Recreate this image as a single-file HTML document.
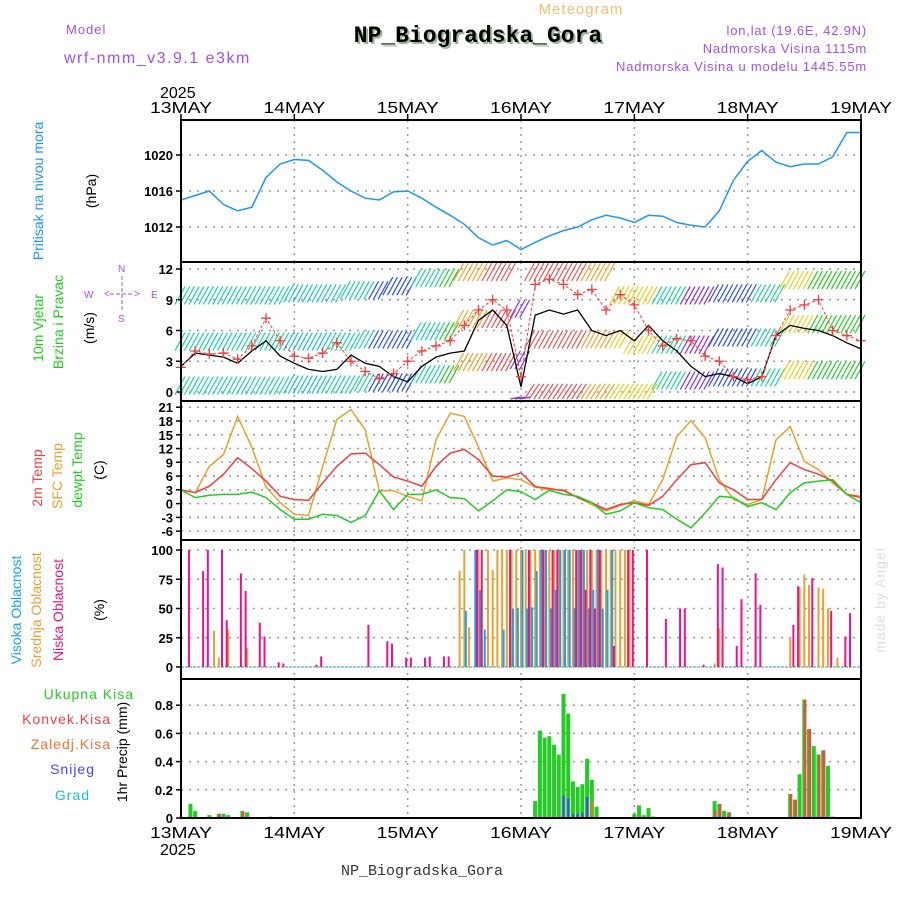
<!DOCTYPE html>
<html><head><meta charset="utf-8"><style>
html,body{margin:0;padding:0;background:#fff;width:900px;height:900px;overflow:hidden}
svg{display:block;font-family:"Liberation Sans",sans-serif}
</style></head><body>
<svg id="chart" width="900" height="900" viewBox="0 0 900 900"></svg>
<script>
// ---------- data (3-hourly unless noted) ----------
const dayLabels = ["13MAY","14MAY","15MAY","16MAY","17MAY","18MAY","19MAY"];
const pressure = [1015.0,1015.5,1016.0,1014.5,1013.8,1014.2,1017.5,1019.0,1019.5,1019.4,1018.3,1017.0,1016.0,1015.2,1015.0,1015.9,1016.0,1015.2,1014.2,1013.3,1012.3,1010.8,1010.0,1010.5,1009.5,1010.3,1011.0,1011.6,1012.0,1012.8,1013.3,1013.0,1012.5,1013.3,1013.2,1012.5,1012.2,1012.0,1013.8,1017.2,1019.3,1020.5,1019.2,1018.7,1019.0,1019.0,1019.8,1022.5,1022.5];
const gustSpeed = [2.4,4.0,3.7,3.8,3.2,4.5,7.2,5.0,3.5,3.3,3.8,4.8,3.0,2.0,1.3,1.8,3.0,4.0,4.5,5.0,6.5,8.0,9.0,8.0,1.5,10.5,11.0,10.5,9.5,10.0,8.0,9.5,8.5,6.0,4.5,5.2,5.0,3.5,3.0,1.5,1.2,1.5,5.5,8.0,8.5,9.0,6.0,5.5,5.0];
const windSpeed = [2.5,3.8,3.6,3.4,2.8,4.0,5.0,3.5,2.8,2.2,2.0,2.2,3.6,2.8,2.5,1.5,1.0,2.5,3.4,3.8,4.0,7.0,8.0,6.5,0.5,7.5,8.0,7.6,8.0,6.0,5.5,6.0,5.0,6.5,5.0,4.0,2.5,1.5,1.8,1.5,0.8,1.5,5.5,6.5,6.2,6.0,5.5,4.8,4.2];
const barbRow1 = [10.3,10.3,10.3,10.3,10.3,10.3,10.3,10.3,10.5,10.5,10.5,10.5,10.8,10.8,10.8,11.2,11.2,12,12,12,12.6,12.6,12.6,12.6,9,12.8,12.8,12.8,12.8,12.8,12.8,10.3,10.3,10.3,10.3,10.3,10.3,10.3,10.5,10.5,10.5,10.5,10.5,11.8,11.8,11.8,11.8,11.8,11.8];
const barbRow2 = [5.8,5.8,5.8,5.8,5.8,5.8,5.8,5.8,5.8,5.8,5.8,5.8,5.8,6.0,6.0,6.0,6.0,6.8,6.8,6.8,8,8,8,8,4,6,6,6,6,6,6,6,5.5,5.5,5.5,5.5,5.5,5.5,6.2,6.2,6.2,6.2,6.2,7.5,7.5,7.5,7.5,7.5,7.5];
const barbRow3 = [1.5,1.5,1.5,1.5,1.5,1.5,1.5,1.5,1.6,1.6,1.6,1.6,1.6,1.8,1.8,1.8,1.8,2.6,2.6,2.6,3.8,3.8,3.8,3.8,-0.5,0.8,0.8,0.8,0.8,0.8,0.8,0.8,0.8,0.8,2.0,2.0,2.0,2.0,2.3,2.3,2.3,2.3,2.3,3.0,3.0,3.0,3.0,3.0,3.0];
const barbSpeed = [5,5,5,5,5,5,5,5,4,4,4,5,5,5,3,3,3,5,5,7,10,10,12,12,2,13,13,13,13,10,10,8,8,8,5,5,2,2,2.5,2.5,2.5,5,5,9,9,7,7,7,7];
const temp2m = [3.0,2.4,3.8,6.4,10.0,7.6,4.9,1.6,0.9,0.7,4.5,8.1,10.8,11.0,8.5,5.8,4.9,3.8,8.1,11.0,11.8,9.6,6.0,5.8,6.7,3.7,3.3,2.8,1.3,0.2,-1.3,-0.2,0.2,-0.4,1.6,5.2,8.5,8.9,4.5,3.0,0.9,0.9,5.2,8.9,7.4,6.4,4.9,2.0,1.3];
const tempSfc = [3.0,2.4,8.1,10.7,19.0,12.3,3.6,0.2,-2.3,-2.6,8.1,18.3,20.5,16.1,2.8,2.8,1.6,0.6,13.9,19.7,19.0,12.3,4.9,5.6,5.2,3.6,3.0,3.0,1.3,-0.2,-1.6,-0.4,0.6,-0.2,5.2,14.6,18.1,14.3,5.2,0.9,-0.2,0.9,13.9,16.8,9.2,7.4,4.5,2.0,1.6];
const tempDew = [3.0,1.3,1.8,2.0,2.0,2.5,1.3,-1.3,-3.4,-3.4,-2.3,-2.6,-4.1,-2.6,2.8,-1.3,2.0,2.0,3.0,1.3,1.1,-1.6,0.6,3.0,2.6,0.9,2.9,2.0,1.6,0.2,-2.3,-1.6,0.2,-0.9,-1.3,-3.4,-5.3,-2.0,1.6,1.3,-0.6,0.2,-1.3,2.4,4.5,4.9,5.2,2.0,0.2];
// clouds (hour index, percent)
const lowHours = [2,5,6,9,10,13,14,17,18,21,22,29,30,40,44,45,48,49,52,53,56,57,63,64,70,74,77,79,80,84,85,86,87,88,89,92,95,96,99,103,106,107,111,114,115,118,119,122,123,130,131,134,138,141,142];
const lowValues = [100,82,100,100,40,80,65,38,26,4,3,2,9,36,22,20,8,8,8,9,9,9,100,100,100,100,100,100,100,100,100,66,100,50,100,18,100,100,100,41,50,50,2,88,85,18,58,80,53,36,69,76,48,26,46];
const midHours = [7,8,10,14,59,60,61,63,65,66,67,68,69,70,71,72,73,74,75,76,77,78,79,80,81,82,83,84,85,86,87,88,89,90,91,92,93,94,95,113,114,129,131,132,133,135,136,137,139];
const midValues = [31,8,32,16,82,100,34,100,100,83,100,100,100,100,100,100,100,100,100,100,100,100,100,100,100,100,100,100,100,100,100,100,100,100,100,100,100,100,100,3,33,24,68,79,70,68,67,50,8];
const highHours = [60,62,63,64,68,70,71,72,73,74,75,76,77,78,79,80,81,82,83,84,85,86,87,88,89,90,91];
const highValues = [48,100,66,32,32,50,50,100,50,51,82,100,100,50,66,100,100,100,50,100,100,50,66,100,50,66,100];
// precipitation (hour index, mm)
const rainHours = [2,3,6,8,9,10,13,14,19,75,76,77,78,79,80,81,82,83,84,85,86,87,88,96,97,98,99,100,113,114,115,116,129,130,131,132,133,134,135,136,137,138];
const rainTotal = [0.10,0.05,0.02,0.03,0.03,0.02,0.05,0.04,0.01,0.12,0.62,0.57,0.58,0.52,0.45,0.88,0.74,0.26,0.22,0.24,0.42,0.27,0.08,0.03,0.09,0.02,0.07,0.01,0.12,0.10,0.05,0.04,0.17,0.13,0.31,0.84,0.63,0.51,0.45,0.48,0.37,0.01];
const rainConv = [0,0,0,0.03,0,0,0.05,0,0,0,0,0,0,0,0,0,0,0,0,0,0,0,0,0,0,0,0,0,0.05,0.10,0,0.04,0.17,0.13,0,0.84,0.63,0,0.45,0.48,0,0];
const snowHours = [81,82,83,84,85,86];
const snowValues = [0.16,0.14,0.03,0.03,0.04,0.15];
const frzHours = [87];
const frzValues = [0.12];

// ---------- scales ----------
const X = h => 181 + h * (680 / 144);
const yP = v => 155 + (1020 - v) * 9;
const yW = v => 392 - v * 10.25;
const yT = v => 503.6 - v * 4.59;
const yC = v => 667 - v * 1.17;
const yR = v => 818 - v * 141;
const NS = "http://www.w3.org/2000/svg";
const svg = document.getElementById("chart");
function mk(tag, attrs, parent) {
  const e = document.createElementNS(NS, tag);
  for (const k in attrs) e.setAttribute(k, attrs[k]);
  (parent || svg).appendChild(e);
  return e;
}
function txt(s, x, y, size, fill, extra) {
  const t = mk("text", Object.assign({x:x, y:y, "font-size":size, fill:fill}, extra || {}));
  t.textContent = s;
  return t;
}
const panels = [[120,262],[262,401],[401,540],[540,679],[679,818]];
const panelNames = ["pressure-panel","wind-panel","temperature-panel","cloud-panel","precip-panel"];

// grid
panels.forEach((p, pi) => {
  for (let d = 1; d < 6; d++) {
    const l = mk("line", {x1:X(d*24), x2:X(d*24), y1:p[0], y2:p[1], stroke:"#999", "stroke-dasharray":"2,5", "stroke-width":1.5});
    
    
  }
});
function hgrid(vals, f, fmt) {
  vals.forEach(v => {
    const y = f(v);
    const l = mk("line", {x1:181, x2:861, y1:y, y2:y, stroke:"#999", "stroke-dasharray":"2,6", "stroke-width":1.5});
    
    
    const tk = mk("line", {x1:176, x2:181, y1:y, y2:y, stroke:"#000", "stroke-width":1.5});
    
    
    const t = txt(fmt(v), 173, y + 5, 13, "#000", {"text-anchor":"end", "font-weight":"bold"});
    
    
  });
}
const pTicks = [1012,1016,1020], wTicks = [0,3,6,9,12], tTicks = [-6,-3,0,3,6,9,12,15,18,21], cTicks = [0,25,50,75,100], rTicks = [0,0.2,0.4,0.6,0.8];
hgrid(pTicks, yP, v => String(v));
hgrid(wTicks, yW, v => String(v));
hgrid(tTicks, yT, v => String(v));
hgrid(cTicks, yC, v => String(v));
hgrid(rTicks, yR, v => v === 0 ? "0" : v.toFixed(1));

const pts = (arr, f) => arr.map((v, i) => X(i*3).toFixed(1) + "," + f(v).toFixed(1)).join(" ");
// pressure
const pl = mk("polyline", {points:pts(pressure, yP), fill:"none", stroke:"#1e96f0", "stroke-width":1.5});



// wind barbs
function barbColor(s) {
  if (s < 2.2) return "#8a2be2";
  if (s < 3.5) return "#2a4df0";
  if (s < 5) return "#19c2c8";
  if (s < 6.5) return "#1ed2a0";
  if (s < 8) return "#22cc22";
  if (s < 9.5) return "#e8d020";
  if (s < 11) return "#f0a030";
  return "#f05050";
}
[barbRow1, barbRow2, barbRow3].forEach((row, ri) => {
  row.forEach((lvl, i) => {
    for (let k = -1; k <= 1; k++) {
      const x = X(i*3 + k);
      if (x < 181 || x > 861) continue;
      const y0 = Math.max(263, Math.min(399, yW(lvl)));
      const y1 = Math.min(399, y0 + 18);
      const b = mk("line", {x1:x + 4, y1:y0, x2:x - 6, y2:y1, stroke:barbColor(barbSpeed[i]), "stroke-width":1.2});
      
      
    }
  });
});
const wl = mk("polyline", {points:pts(windSpeed, yW), fill:"none", stroke:"#000", "stroke-width":1.3});


const gl = mk("polyline", {points:pts(gustSpeed, yW), fill:"none", stroke:"#f04040", "stroke-width":1, "stroke-dasharray":"3,2"});


gustSpeed.forEach((v, i) => {
  const x = X(i*3), y = yW(v);
  const m = mk("path", {d:`M${x-5},${y}H${x+5}M${x},${y-5}V${y+5}`, stroke:"#f04040", "stroke-width":1.3});
  
  
});

// temperatures
[[tempSfc,"#e8a030","sfc-temp-line"],[temp2m,"#f04040","temp-2m-line"],[tempDew,"#22cc22","dewpoint-line"]].forEach(s => {
  const l = mk("polyline", {points:pts(s[0], yT), fill:"none", stroke:s[1], "stroke-width":1.5});
  
  
});

// clouds
const cb = mk("line", {x1:181, x2:861, y1:yC(0), y2:yC(0), stroke:"#9cc", "stroke-width":2, "stroke-dasharray":"3,1"});


function cloudBars(hours, vals, col, off, name) {
  hours.forEach((h, i) => {
    const x = X(h) + off;
    const r = mk("rect", {x:x - 1, y:yC(vals[i]), width:2, height:yC(0) - yC(vals[i]), fill:col});
    
    
  });
}
cloudBars(midHours, midValues, "#e8a030", 0, "mid-cloud-bar");
cloudBars(highHours, highValues, "#1aa0f0", 1.5, "high-cloud-bar");
cloudBars(lowHours, lowValues, "#f0108a", -1.5, "low-cloud-bar");

// precipitation
rainHours.forEach((h, i) => {
  const x = X(h);
  const r = mk("rect", {x:x - 2, y:yR(rainTotal[i]), width:4, height:818 - yR(rainTotal[i]), fill:"#22cc22"});
  
  
  if (rainConv[i] > 0) {
    const c = mk("rect", {x:x - 0.5, y:yR(rainConv[i]), width:2.5, height:818 - yR(rainConv[i]), fill:"#f04848"});
    
    
  }
});
snowHours.forEach((h, i) => {
  const r = mk("rect", {x:X(h) - 1, y:yR(snowValues[i]), width:2, height:818 - yR(snowValues[i]), fill:"#4444ff"});
  
  
});
frzHours.forEach((h, i) => {
  const r = mk("rect", {x:X(h) - 1, y:yR(frzValues[i]), width:2, height:818 - yR(frzValues[i]), fill:"#f07030"});
  
  
});

// panel frames
panels.forEach((p, pi) => {
  const r = mk("rect", {x:181, y:p[0], width:680, height:p[1] - p[0], fill:"none", stroke:"#000", "stroke-width":2});
  
  
});
// x axis labels top & bottom
dayLabels.forEach((d, i) => {
  const x = X(i*24);
  const t1 = txt(d, x, 113, 16, "#000", {"text-anchor":"middle", "textLength":62, "lengthAdjust":"spacingAndGlyphs"});
  
  
  const t2 = txt(d, x, 838, 16, "#000", {"text-anchor":"middle", "textLength":62, "lengthAdjust":"spacingAndGlyphs"});
  
  
  const tk = mk("line", {x1:x, x2:x, y1:114, y2:120, stroke:"#000", "stroke-width":1.5});
  
  
});
</script>
<svg width="900" height="900" style="position:absolute;left:0;top:0;font-family:'Liberation Sans',sans-serif">
  <text x="160" y="98" font-size="16">2025</text>
  <text x="160" y="855" font-size="16">2025</text>
  <text x="581" y="14" font-size="15" fill="#f0c070" text-anchor="middle" letter-spacing="1">Meteogram</text>
  <text x="66" y="34" font-size="13" fill="#a050f0" letter-spacing="1">Model</text>
  <text x="64" y="63" font-size="16" fill="#a050f0" letter-spacing="1.5">wrf-nmm_v3.9.1 e3km</text>
  <text x="480" y="44" font-size="23" font-weight="bold" font-family="Liberation Mono, monospace" fill="#99b899" text-anchor="middle">NP_Biogradska_Gora</text>
  <text x="478" y="42" font-size="23" font-weight="bold" font-family="Liberation Mono, monospace" fill="#000" text-anchor="middle">NP_Biogradska_Gora</text>
  <text x="867" y="35" font-size="13" fill="#a050f0" text-anchor="end" letter-spacing="0.8">lon,lat (19.6E, 42.9N)</text>
  <text x="867" y="53" font-size="13" fill="#a050f0" text-anchor="end" letter-spacing="0.8">Nadmorska Visina 1115m</text>
  <text x="867" y="71" font-size="13" fill="#a050f0" text-anchor="end" letter-spacing="0.8">Nadmorska Visina u modelu 1445.55m</text>
  <text x="422" y="875" font-size="15" font-family="Liberation Mono, monospace" fill="#333" text-anchor="middle">NP_Biogradska_Gora</text>
  <g font-size="14">
    <text transform="translate(43,191) rotate(-90)" text-anchor="middle" fill="#1e96f0">Pritisak na nivou mora</text>
    <text transform="translate(96,191) rotate(-90)" text-anchor="middle" fill="#000">(hPa)</text>
  </g>
  <g font-size="14">
    <text transform="translate(43,328) rotate(-90)" text-anchor="middle" fill="#22cc22">10m Vjetar</text>
    <text transform="translate(63,322) rotate(-90)" text-anchor="middle" fill="#22cc22">Brzina i Pravac</text>
    <text transform="translate(94,328) rotate(-90)" text-anchor="middle" fill="#000">(m/s)</text>
    <g fill="#a050f0" font-size="10">
      <text x="84" y="298">W</text><text x="151" y="298">E</text>
      <text x="104" y="297">&lt;</text><text x="134" y="297">&gt;</text>
      <line x1="110" y1="294" x2="134" y2="294" stroke="#a050f0" stroke-dasharray="4,2"/>
      <line x1="122" y1="276" x2="122" y2="312" stroke="#a050f0" stroke-dasharray="4,2"/>
      <text x="118" y="272">N</text><text x="118" y="322">S</text>
    </g>
  </g>
  <g font-size="14">
    <text transform="translate(42,478) rotate(-90)" text-anchor="middle" fill="#f04040">2m Temp</text>
    <text transform="translate(62,476) rotate(-90)" text-anchor="middle" fill="#e8a030">SFC Temp</text>
    <text transform="translate(82,470) rotate(-90)" text-anchor="middle" fill="#22cc22">dewpt Temp</text>
    <text transform="translate(104,470) rotate(-90)" text-anchor="middle" fill="#000">(C)</text>
  </g>
  <g font-size="14">
    <text transform="translate(21,610) rotate(-90)" text-anchor="middle" fill="#1aa0f0">Visoka Oblacnost</text>
    <text transform="translate(41,610) rotate(-90)" text-anchor="middle" fill="#e8a030">Srednja Oblacnost</text>
    <text transform="translate(63,610) rotate(-90)" text-anchor="middle" fill="#f0108a">Niska Oblacnost</text>
    <text transform="translate(104,610) rotate(-90)" text-anchor="middle" fill="#000">(%)</text>
  </g>
  <g font-size="14" text-anchor="end" letter-spacing="1">
    <text x="134" y="699" fill="#22cc22">Ukupna Kisa</text>
    <text x="111" y="724" fill="#f04040">Konvek.Kisa</text>
    <text x="111" y="749" fill="#f07030">Zaledj.Kisa</text>
    <text x="95" y="774" fill="#4444ff">Snijeg</text>
    <text x="90" y="800" fill="#19c2c8">Grad</text>
    <text transform="translate(127,752) rotate(-90)" text-anchor="middle" fill="#000" letter-spacing="0">1hr Precip (mm)</text>
  </g>
  <text transform="translate(885,600) rotate(-90)" font-size="14" fill="#d8e0d8" text-anchor="middle" letter-spacing="1">made by Angel</text>
</svg>
</body></html>
